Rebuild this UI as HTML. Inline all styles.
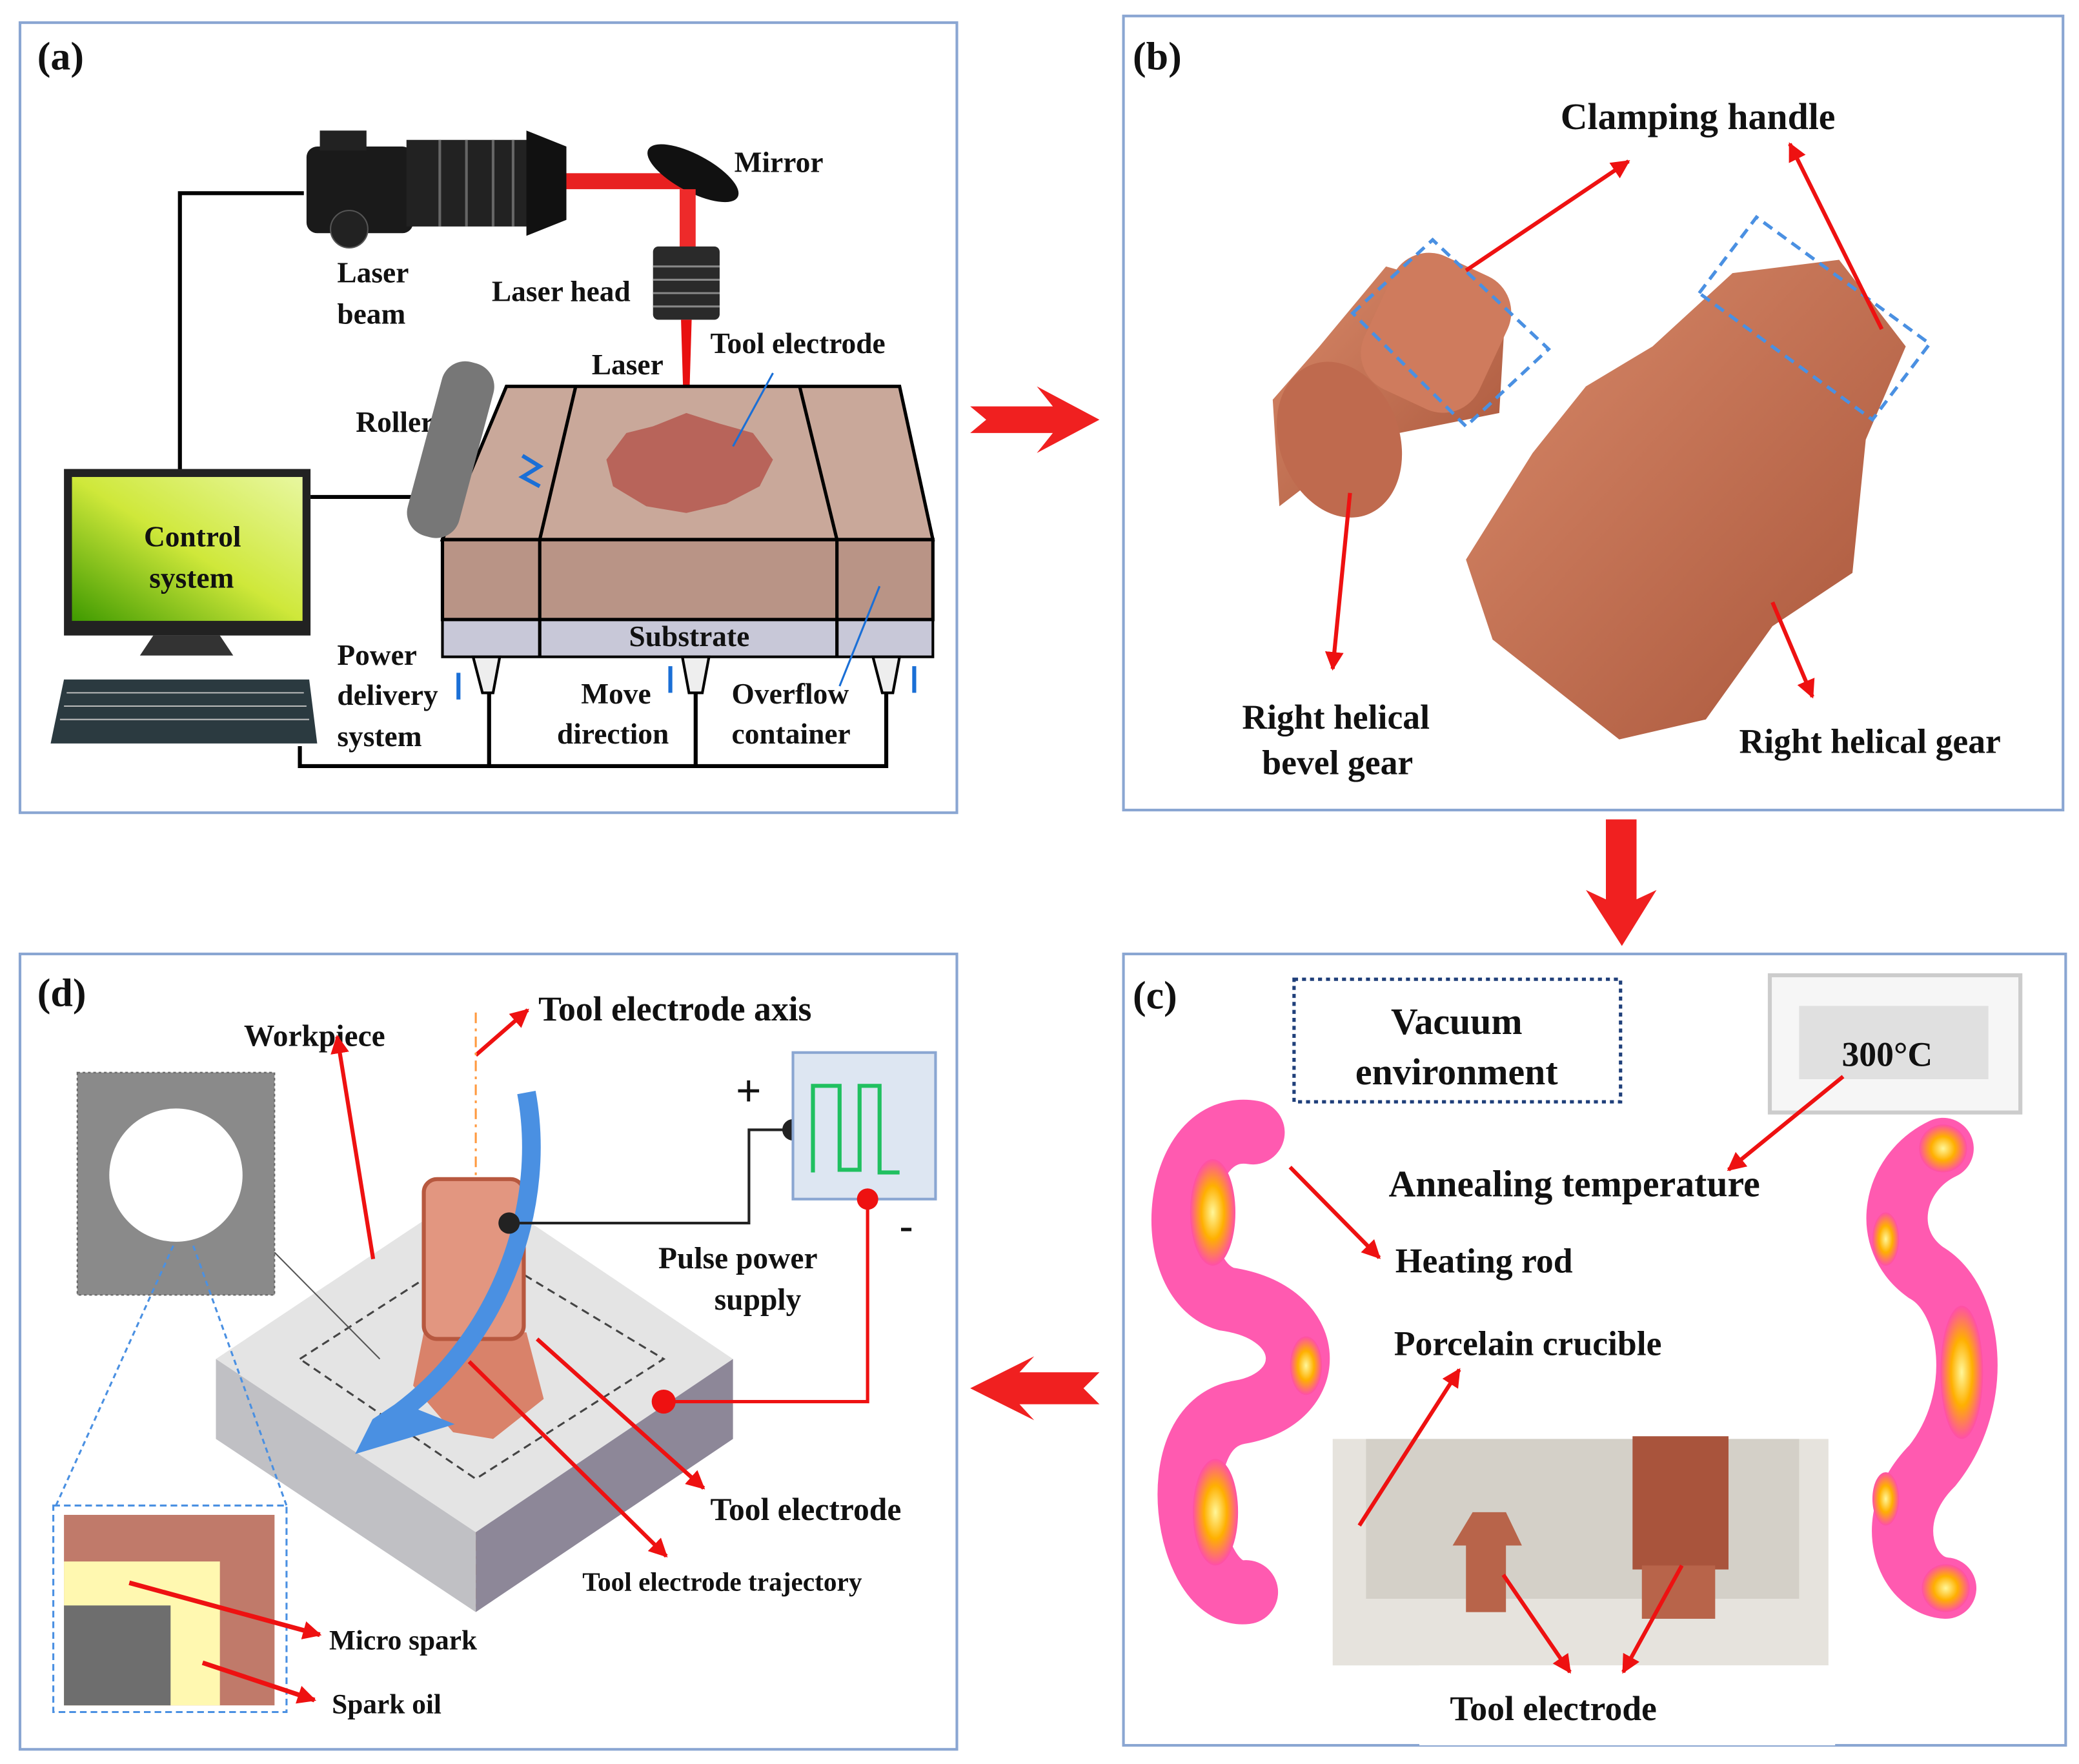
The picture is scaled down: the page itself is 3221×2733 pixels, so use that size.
<!DOCTYPE html>
<html><head><meta charset="utf-8"><style>
html,body{margin:0;padding:0;background:#fff;}
svg{display:block;}
text{font-family:"Liberation Serif",serif;font-weight:bold;fill:#111;}
</style></head><body>
<svg width="3221" height="2733" viewBox="0 0 1560 1324" preserveAspectRatio="none" xmlns="http://www.w3.org/2000/svg">
<defs>
<marker id="ar" markerWidth="8" markerHeight="8" refX="6" refY="4" orient="auto" markerUnits="userSpaceOnUse"><path d="M0,0 L12,4 L0,8 Z" fill="#e8101a" transform="scale(0.7)"/></marker>
<marker id="ah" viewBox="0 0 10 10" refX="9" refY="5" markerWidth="14" markerHeight="14" orient="auto" markerUnits="userSpaceOnUse"><path d="M0,0 L10,5 L0,10 Z" fill="#ee1111"/></marker>
<radialGradient id="hot" cx="50%" cy="50%" r="50%"><stop offset="0" stop-color="#fff79a"/><stop offset="0.5" stop-color="#ffb000"/><stop offset="1" stop-color="#ff4fa8"/></radialGradient>
<linearGradient id="scr" x1="0" y1="1" x2="1" y2="0"><stop offset="0" stop-color="#3f9a00"/><stop offset="0.5" stop-color="#cfe83a"/><stop offset="1" stop-color="#e8f7a0"/></linearGradient>
<linearGradient id="cu" x1="0" y1="0" x2="1" y2="1"><stop offset="0" stop-color="#d98a6a"/><stop offset="1" stop-color="#a8553a"/></linearGradient>
</defs>
<!-- panel frames -->
<rect x="15" y="17" width="703" height="593" fill="none" stroke="#8aa6d2" stroke-width="2"/>
<rect x="843" y="12" width="705" height="596" fill="none" stroke="#8aa6d2" stroke-width="2"/>
<rect x="843" y="716" width="707" height="594" fill="none" stroke="#8aa6d2" stroke-width="2"/>
<rect x="15" y="716" width="703" height="597" fill="none" stroke="#8aa6d2" stroke-width="2"/>
<!-- flow arrows -->
<path d="M728,305 L790,305 L778,290 L825,315 L778,340 L790,325 L728,325 L740,315 Z" fill="#f02020"/>
<path d="M1205,615 L1228,615 L1228,675 L1243,668 L1217,710 L1190,668 L1205,675 Z" fill="#f02020"/>
<path d="M825,1030 L765,1030 L776,1018 L728,1042 L776,1066 L765,1054 L825,1054 L813,1042 Z" fill="#f02020"/>

<!-- (a) -->
<text x="28" y="52" font-size="30">(a)</text>
<polyline points="228,145 135,145 135,355" fill="none" stroke="#000" stroke-width="3"/>
<line x1="233" y1="373" x2="320" y2="373" stroke="#000" stroke-width="3"/>
<polyline points="225,560 225,575 665,575 665,520" fill="none" stroke="#000" stroke-width="3"/>
<line x1="367" y1="520" x2="367" y2="575" stroke="#000" stroke-width="3"/>
<line x1="522" y1="520" x2="522" y2="575" stroke="#000" stroke-width="3"/>
<!-- camera -->
<rect x="230" y="110" width="80" height="65" rx="8" fill="#1a1a1a"/>
<rect x="240" y="98" width="35" height="15" fill="#222"/>
<circle cx="262" cy="172" r="14" fill="#222" stroke="#555"/>
<rect x="305" y="105" width="100" height="65" fill="#222"/>
<path d="M395,98 L425,110 L425,165 L395,177 Z" fill="#111"/>
<g stroke="#666" stroke-width="2"><line x1="330" y1="105" x2="330" y2="170"/><line x1="350" y1="105" x2="350" y2="170"/><line x1="370" y1="105" x2="370" y2="170"/><line x1="385" y1="105" x2="385" y2="170"/></g>
<rect x="425" y="130" width="90" height="12" fill="#e82020"/>
<ellipse cx="520" cy="130" rx="38" ry="14" transform="rotate(28 520 130)" fill="#111"/>
<rect x="510" y="142" width="12" height="45" fill="#ee2a2a"/>
<rect x="490" y="185" width="50" height="55" rx="4" fill="#2a2a2a"/>
<g stroke="#888" stroke-width="1.5"><line x1="490" y1="200" x2="540" y2="200"/><line x1="490" y1="210" x2="540" y2="210"/><line x1="490" y1="220" x2="540" y2="220"/><line x1="490" y1="230" x2="540" y2="230"/></g>
<polygon points="511,240 519,240 516,340 514,340" fill="#e81010"/>
<text x="551" y="129" font-size="22">Mirror</text>
<text x="253" y="212" font-size="22">Laser</text>
<text x="253" y="243" font-size="22">beam</text>
<text x="369" y="226" font-size="22">Laser head</text>
<text x="444" y="281" font-size="22">Laser</text>
<text x="533" y="265" font-size="22">Tool electrode</text>
<text x="267" y="324" font-size="22">Roller</text>
<!-- powder bed -->
<polygon points="380,290 675,290 700,405 332,405" fill="#c9a89a"/>
<polygon points="332,405 700,405 700,465 332,465" fill="#b99486"/>
<rect x="332" y="465" width="368" height="28" fill="#c8c8d8" stroke="#000" stroke-width="2"/>
<g fill="none" stroke="#000" stroke-width="2.5">
<polygon points="380,290 675,290 700,405 332,405"/>
<rect x="332" y="405" width="368" height="60"/>
<line x1="432" y1="290" x2="405" y2="405"/><line x1="600" y1="290" x2="628" y2="405"/>
<line x1="405" y1="405" x2="405" y2="493"/><line x1="628" y1="405" x2="628" y2="493"/>
</g>
<path d="M455,345 L470,325 L490,320 L515,310 L540,318 L565,325 L580,345 L570,365 L545,378 L515,385 L485,380 L460,365 Z" fill="#b8645a"/>
<polygon points="355,493 375,493 370,520 362,520" fill="#eee" stroke="#000" stroke-width="2"/>
<polygon points="512,493 532,493 527,520 517,520" fill="#eee" stroke="#000" stroke-width="2"/>
<polygon points="655,493 675,493 670,520 662,520" fill="#eee" stroke="#000" stroke-width="2"/>
<text x="472" y="485" font-size="22">Substrate</text>
<rect x="318" y="270" width="40" height="135" rx="18" transform="rotate(15 338 338)" fill="#777"/>
<path d="M392,342 L405,350 L392,358 L405,365" stroke="#1a6fd6" stroke-width="3" fill="none"/>
<!-- computer -->
<rect x="48" y="352" width="185" height="125" fill="#222"/>
<rect x="54" y="358" width="173" height="108" fill="url(#scr)"/>
<text x="108" y="410" font-size="22">Control</text>
<text x="112" y="441" font-size="22">system</text>
<polygon points="115,477 165,477 175,492 105,492" fill="#333"/>
<polygon points="48,510 232,510 238,558 38,558" fill="#2b3a40"/>
<g stroke="#bbb" stroke-width="1"><line x1="50" y1="520" x2="228" y2="520"/><line x1="48" y1="530" x2="230" y2="530"/><line x1="45" y1="540" x2="232" y2="540"/></g>
<text x="253" y="499" font-size="22">Power</text>
<text x="253" y="529" font-size="22">delivery</text>
<text x="253" y="560" font-size="22">system</text>
<text x="436" y="528" font-size="22">Move</text>
<text x="418" y="558" font-size="22">direction</text>
<text x="549" y="528" font-size="22">Overflow</text>
<text x="549" y="558" font-size="22">container</text>
<g stroke="#1a6fd6" stroke-width="3"><line x1="344" y1="525" x2="344" y2="505"/><line x1="503" y1="500" x2="503" y2="520"/><line x1="686" y1="500" x2="686" y2="520"/></g>
<line x1="550" y1="335" x2="580" y2="280" stroke="#1a6fd6" stroke-width="1.5"/>
<line x1="630" y1="515" x2="660" y2="440" stroke="#1a6fd6" stroke-width="1.5"/>

<!-- (b) -->
<text x="850" y="52" font-size="30">(b)</text>
<text x="1171" y="97" font-size="28">Clamping handle</text>
<text x="932" y="547" font-size="26">Right helical</text>
<text x="947" y="581" font-size="26">bevel gear</text>
<text x="1305" y="565" font-size="26">Right helical gear</text>
<!-- small gear -->
<polygon points="1040,200 1130,225 1125,310 1025,330 960,380 955,300 990,260" fill="url(#cu)"/>
<ellipse cx="1005" cy="330" rx="45" ry="60" transform="rotate(-20 1005 330)" fill="#bf6a4e"/>
<rect x="1030" y="195" width="95" height="110" rx="30" transform="rotate(25 1078 250)" fill="#cf7b5d"/>
<polygon points="1015,235 1075,180 1162,262 1100,320" fill="none" stroke="#4a90e2" stroke-width="2.5" stroke-dasharray="8,5"/>
<!-- big gear -->
<polygon points="1240,260 1300,205 1380,195 1430,260 1400,330 1390,430 1330,470 1280,540 1215,555 1120,480 1100,420 1150,340 1190,290" fill="url(#cu)"/>
<polygon points="1275,220 1318,163 1448,258 1405,315" fill="none" stroke="#4a90e2" stroke-width="2.5" stroke-dasharray="8,5"/>
<line x1="1100" y1="203" x2="1222" y2="121" stroke="#ee1111" stroke-width="3" marker-end="url(#ah)"/>
<line x1="1412" y1="247" x2="1343" y2="108" stroke="#ee1111" stroke-width="3" marker-end="url(#ah)"/>
<line x1="1013" y1="370" x2="1000" y2="502" stroke="#ee1111" stroke-width="3" marker-end="url(#ah)"/>
<line x1="1330" y1="452" x2="1360" y2="523" stroke="#ee1111" stroke-width="3" marker-end="url(#ah)"/>

<!-- (c) -->
<text x="850" y="757" font-size="30">(c)</text>
<rect x="971" y="735" width="245" height="92" fill="none" stroke="#1f3f7a" stroke-width="2.5" stroke-dasharray="3,3"/>
<text x="1093" y="776" font-size="28" text-anchor="middle">Vacuum</text>
<text x="1093" y="814" font-size="28" text-anchor="middle">environment</text>
<rect x="1328" y="732" width="188" height="103" fill="#f6f6f6" stroke="#ccc" stroke-width="3"/>
<rect x="1350" y="755" width="142" height="55" fill="#e0e0e0"/>
<text x="1382" y="800" font-size="26">300°C</text>
<line x1="1383" y1="808" x2="1297" y2="878" stroke="#ee1111" stroke-width="3" marker-end="url(#ah)"/>
<text x="1042" y="898" font-size="28">Annealing temperature</text>
<text x="1047" y="955" font-size="26">Heating rod</text>
<text x="1046" y="1017" font-size="26">Porcelain crucible</text>
<!-- heating rods -->
<path d="M940,850 C880,840 870,960 920,975 C990,985 990,1050 930,1060 C870,1070 890,1200 935,1195" fill="none" stroke="#ff5ab0" stroke-width="48" stroke-linecap="round"/>
<ellipse cx="910" cy="910" rx="17" ry="40" fill="url(#hot)"/>
<ellipse cx="980" cy="1025" rx="12" ry="22" fill="url(#hot)"/>
<ellipse cx="912" cy="1135" rx="17" ry="40" fill="url(#hot)"/>
<path d="M1458,862 C1420,880 1410,930 1445,955 C1480,975 1490,1050 1450,1100 C1410,1140 1430,1190 1460,1192" fill="none" stroke="#ff5ab0" stroke-width="46" stroke-linecap="round"/>
<circle cx="1458" cy="862" r="18" fill="url(#hot)"/>
<ellipse cx="1415" cy="930" rx="10" ry="20" fill="url(#hot)"/>
<ellipse cx="1472" cy="1030" rx="16" ry="50" fill="url(#hot)"/>
<ellipse cx="1415" cy="1125" rx="10" ry="20" fill="url(#hot)"/>
<circle cx="1460" cy="1192" r="18" fill="url(#hot)"/>
<line x1="968" y1="876" x2="1035" y2="944" stroke="#ee1111" stroke-width="3" marker-end="url(#ah)"/>
<!-- crucible -->
<polygon points="1000,1080 1372,1080 1372,1250 1000,1250" fill="#e6e3dd"/>
<polygon points="1025,1080 1350,1080 1350,1200 1025,1200" fill="#d4d0c8"/>
<rect x="1100" y="1150" width="30" height="60" fill="#b8644a"/>
<polygon points="1090,1160 1105,1135 1130,1135 1142,1160" fill="#b8644a"/>
<rect x="1225" y="1078" width="72" height="100" fill="#a9543c"/>
<rect x="1232" y="1175" width="55" height="40" fill="#b8644a"/>
<rect x="1065" y="1250" width="312" height="60" fill="#fff"/>
<line x1="1020" y1="1145" x2="1095" y2="1028" stroke="#ee1111" stroke-width="3" marker-end="url(#ah)"/>
<line x1="1128" y1="1182" x2="1178" y2="1255" stroke="#ee1111" stroke-width="3" marker-end="url(#ah)"/>
<line x1="1262" y1="1175" x2="1218" y2="1255" stroke="#ee1111" stroke-width="3" marker-end="url(#ah)"/>
<text x="1088" y="1291" font-size="26">Tool electrode</text>

<!-- (d) -->
<text x="28" y="755" font-size="30">(d)</text>
<text x="183" y="785" font-size="23">Workpiece</text>
<text x="404" y="766" font-size="26">Tool electrode axis</text>
<line x1="357" y1="792" x2="396" y2="758" stroke="#ee1111" stroke-width="3" marker-end="url(#ah)"/>
<line x1="357" y1="760" x2="357" y2="1210" stroke="#ff9a40" stroke-width="1.5" stroke-dasharray="8,4,2,4"/>
<!-- workpiece block -->
<polygon points="162,1020 357,890 550,1020 357,1150" fill="#e4e4e4"/>
<polygon points="162,1020 357,1150 357,1210 162,1080" fill="#c0c0c4"/>
<polygon points="357,1150 550,1020 550,1080 357,1210" fill="#8d8798"/>
<polygon points="225,1020 357,935 498,1020 357,1110" fill="none" stroke="#444" stroke-width="1.5" stroke-dasharray="6,4"/>
<line x1="280" y1="945" x2="253" y2="778" stroke="#ee1111" stroke-width="3" marker-end="url(#ah)"/>
<!-- tool -->
<polygon points="318,1000 395,1000 408,1050 370,1080 340,1075 310,1040" fill="#d9826a"/>
<rect x="318" y="885" width="75" height="120" rx="10" fill="#e29680" stroke="#b7583f" stroke-width="3"/>
<path d="M395,820 C410,900 380,1000 300,1060 L285,1070 L280,1080 L320,1068 L300,1060" fill="none" stroke="#4a90e2" stroke-width="14"/>
<polyline points="380,918 562,918 562,848 595,848" fill="none" stroke="#222" stroke-width="2"/>
<circle cx="382" cy="918" r="8" fill="#222"/><circle cx="595" cy="848" r="8" fill="#222"/>
<rect x="595" y="790" width="107" height="110" fill="#dde6f2" stroke="#8aa6d2" stroke-width="2"/>
<polyline points="610,880 610,815 630,815 630,878 645,878 645,815 660,815 660,880 675,880" fill="none" stroke="#20c060" stroke-width="3"/>
<text x="552" y="830" font-size="34">+</text>
<text x="675" y="930" font-size="30">-</text>
<polyline points="651,900 651,1052 498,1052" fill="none" stroke="#ee1111" stroke-width="2.5"/>
<circle cx="651" cy="900" r="8" fill="#ee1111"/><circle cx="498" cy="1052" r="9" fill="#ee1111"/>
<text x="494" y="952" font-size="23">Pulse power</text>
<text x="536" y="983" font-size="23">supply</text>
<line x1="403" y1="1005" x2="528" y2="1117" stroke="#ee1111" stroke-width="3" marker-end="url(#ah)"/>
<line x1="352" y1="1022" x2="500" y2="1168" stroke="#ee1111" stroke-width="3" marker-end="url(#ah)"/>
<text x="533" y="1141" font-size="24">Tool electrode</text>
<text x="437" y="1194" font-size="20">Tool electrode trajectory</text>
<!-- inset image -->
<rect x="58" y="805" width="148" height="167" fill="#8a8a8a" stroke="#666" stroke-dasharray="2,2"/>
<circle cx="132" cy="882" r="50" fill="#fff"/>
<line x1="206" y1="940" x2="285" y2="1020" stroke="#555" stroke-width="1"/>
<line x1="130" y1="935" x2="42" y2="1130" stroke="#4a90e2" stroke-width="1.5" stroke-dasharray="4,3"/>
<line x1="145" y1="935" x2="215" y2="1130" stroke="#4a90e2" stroke-width="1.5" stroke-dasharray="4,3"/>
<rect x="40" y="1130" width="175" height="155" fill="none" stroke="#4a90e2" stroke-width="1.5" stroke-dasharray="5,3"/>
<rect x="48" y="1137" width="158" height="143" fill="#c07a6a"/>
<rect x="48" y="1172" width="117" height="108" fill="#fff8b0"/>
<rect x="48" y="1205" width="80" height="75" fill="#6e6e6e"/>
<line x1="97" y1="1188" x2="240" y2="1227" stroke="#ee1111" stroke-width="3.5" marker-end="url(#ah)"/>
<line x1="152" y1="1248" x2="236" y2="1276" stroke="#ee1111" stroke-width="3.5" marker-end="url(#ah)"/>
<text x="247" y="1238" font-size="21">Micro spark</text>
<text x="249" y="1286" font-size="21">Spark oil</text>
</svg>
</body></html>
